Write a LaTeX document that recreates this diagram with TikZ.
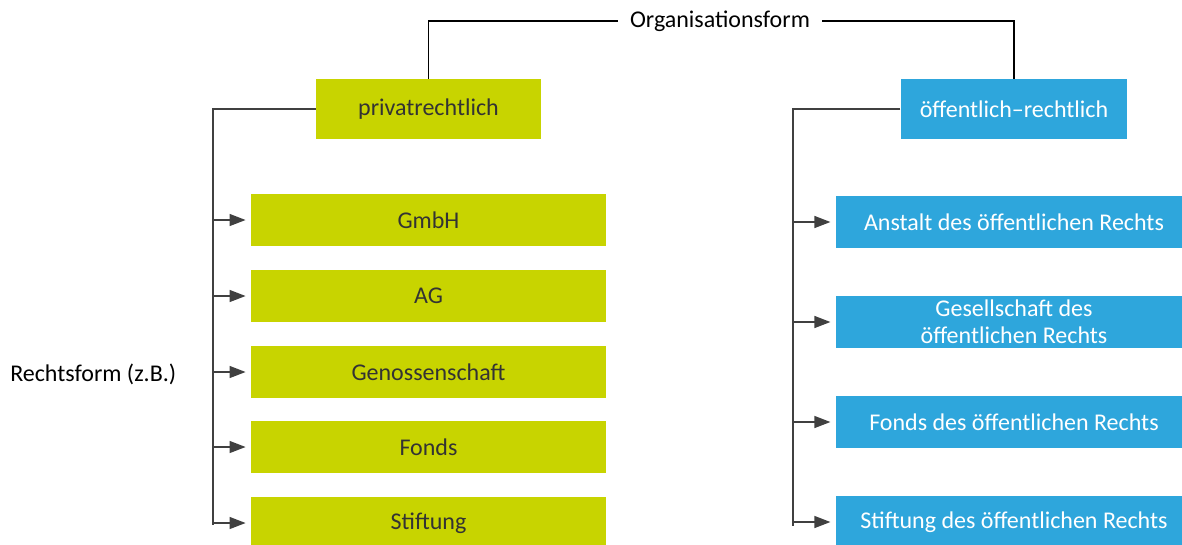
\documentclass[tikz,border=0pt]{standalone}
\usepackage{fontspec}
\setmainfont{Carlito}
\usepackage{tikz}
\usetikzlibrary{arrows.meta,positioning}

\definecolor{gruen}{RGB}{200,212,0}
\definecolor{blau}{RGB}{46,166,220}
\definecolor{linie}{RGB}{64,64,64}

\tikzset{
    gruenbox/.style={fill=gruen, text=black!80, minimum width=266pt, minimum height=39pt, inner sep=0pt},
    blaubox/.style={fill=blau, text=white, minimum width=267pt, minimum height=39pt, inner sep=0pt, align=center},
    pfeil/.style={draw=linie, line width=1pt, -{Triangle[length=12pt,width=9pt]}, shorten >=4pt},
    ast/.style={draw=linie, line width=1pt}
}

\begin{document}
\begin{tikzpicture}[x=0.75pt, y=-0.75pt, font=\fontsize{18}{20.5}\selectfont]
        \useasboundingbox (0,0) rectangle (1182,544);

        % Top level
        \node[inner sep=9pt] (org) at (720,21) {Organisationsform};
        \node[gruenbox, minimum width=169pt, minimum height=45pt] (privat) at (428.5,109) {privatrechtlich};
        \node[blaubox, minimum width=170pt, minimum height=45pt] (oeff) at (1014,109) {öffentlich–rechtlich};
        \draw[line width=1.3pt] (org.west) -| (privat.north);
        \draw[line width=1.3pt] (org.east) -| (oeff.north);

        % Label on the left
        \node[anchor=west, inner sep=0pt] (rechtsform) at (10,374) {Rechtsform (z.B.)};

        % privatrechtliche Formen
        \node[gruenbox] (gmbh) at (428.5,220) {GmbH};
        \node[gruenbox] (ag) at (428.5,296) {AG};
        \node[gruenbox] (geno) at (428.5,372) {Genossenschaft};
        \node[gruenbox] (fonds) at (428.5,447) {Fonds};
        \node[gruenbox] (stiftung) at (428.5,523) {Stiftung};

        % oeffentlich-rechtliche Formen
        \node[blaubox] (anstalt) at (1014,222) {Anstalt des öffentlichen Rechts};
        \node[blaubox] (gesell) at (1014,322) {Gesellschaft des\\öffentlichen Rechts};
        \node[blaubox] (oefonds) at (1014,422) {Fonds des öffentlichen Rechts};
        \node[blaubox] (oestiftung) at (1014,522) {Stiftung des öffentlichen Rechts};

        % left bracket with arrows
        \coordinate (lbus) at (213,525);
        \draw[ast] (privat.west) -| (lbus);
        \foreach \n in {gmbh,ag,geno,fonds,stiftung}
            \draw[pfeil] (lbus |- \n.west) -- (\n.west);

        % right bracket with arrows
        \coordinate (rbus) at (793,526);
        \draw[ast] (oeff.west) -| (rbus);
        \foreach \n in {anstalt,gesell,oefonds,oestiftung}
            \draw[pfeil] (rbus |- \n.west) -- (\n.west);
\end{tikzpicture}
\end{document}
